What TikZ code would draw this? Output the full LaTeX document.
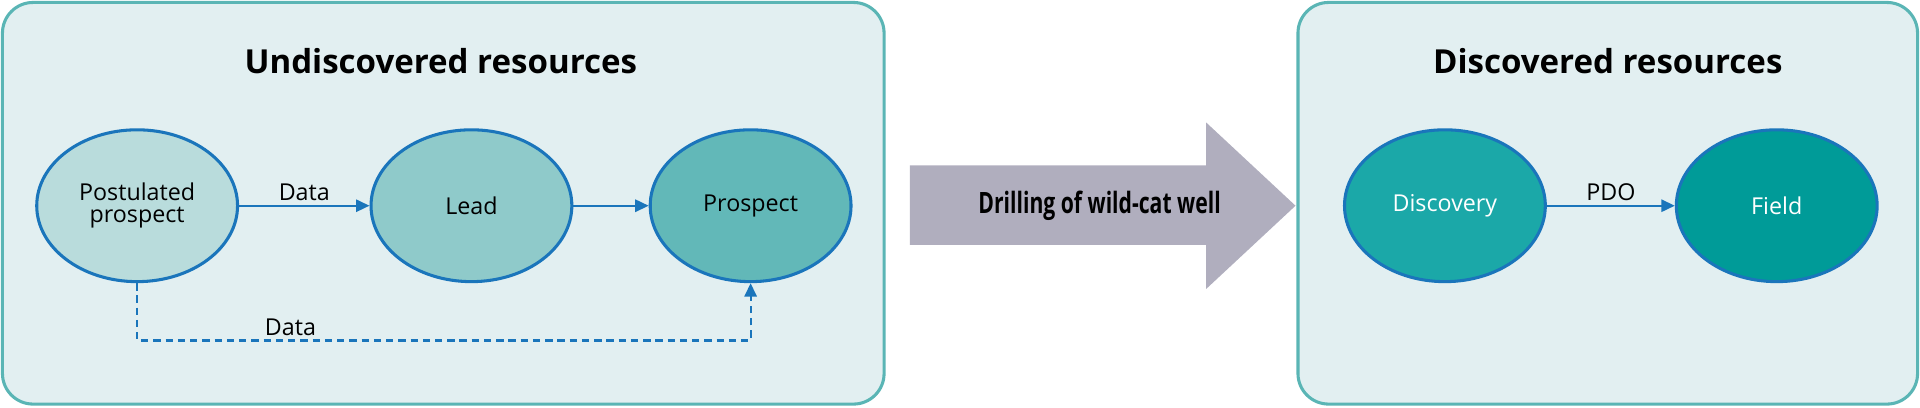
\documentclass[tikz,border=0pt]{standalone}
\usepackage{fontspec}
\setmainfont{Open Sans}
\usepackage{tikz}
\usetikzlibrary{shapes.geometric,arrows.meta}
\definecolor{boxfill}{HTML}{E2EFF1}
\definecolor{boxline}{HTML}{5AB5B5}
\definecolor{ringblue}{HTML}{1A75BB}
\definecolor{bigarrow}{HTML}{B0AEBE}
\begin{document}
\begin{tikzpicture}[x=1pt,y=-1pt,
	stage/.style = {shape=ellipse,draw=ringblue,line width=2.5pt,minimum width=164pt,minimum height=124pt,align=center,font=\fontsize{19}{22}\selectfont},
	flow/.style = {draw=ringblue,line width=1.8pt,-{Triangle[length=11pt,width=10pt]}},
	group/.style = {draw=boxline,line width=2.5pt,fill=boxfill,rounded corners=25pt},
	title/.style = {font=\fontsize{27}{30}\selectfont\bfseries}]
	\useasboundingbox (0,0) rectangle (1568,333);
	% the two frames
	\draw[group] (2,2) rectangle (722,330);
	\draw[group] (1060,2) rectangle (1566,330);
	\node[title] (undisc) at (360,50) {Undiscovered resources};
	\node[title] (disc) at (1313,50) {Discovered resources};
	% stages
			\node (post) at (112,168)[stage,fill={rgb,255:red,185;green,220;blue,220}]{Postulated\\[-4pt]prospect};
			\node (lead) at (385,168)[stage,fill={rgb,255:red,143;green,202;blue,202}]{Lead};
			\node (prosp) at (613,168)[stage,fill={rgb,255:red,98;green,184;blue,184}]{Prospect};
			\node (discov) at (1180,168)[stage,fill={rgb,255:red,27;green,168;blue,168},text=white]{Discovery};
			\node (field) at (1451,168)[stage,fill={rgb,255:red,0;green,155;blue,152},text=white]{Field};
	\draw[flow] (post) -- node[above,font=\fontsize{19}{22}\selectfont]{Data} (lead);
	\draw[flow] (lead) -- (prosp);
	\draw[flow] (discov) -- node[above,font=\fontsize{19}{22}\selectfont]{PDO} (field);
	\coordinate (c1) at (112,278);
	\coordinate (c2) at (613,278);
	\draw[flow,dashed,dash pattern=on 6pt off 4pt] (post.south) -- (c1) -- node[above,font=\fontsize{19}{22}\selectfont,pos=0.25]{Data} (c2) -- (prosp.south);
	% drilling arrow
	\fill[bigarrow] (743,135) -- (985,135) -- (985,100) -- (1058,168) -- (985,236) -- (985,200) -- (743,200) -- cycle;
	\node (drill) at (898,168) {\scalebox{0.72}[1]{\fontsize{24}{28}\selectfont\bfseries Drilling of wild-cat well}};
\end{tikzpicture}
\end{document}
